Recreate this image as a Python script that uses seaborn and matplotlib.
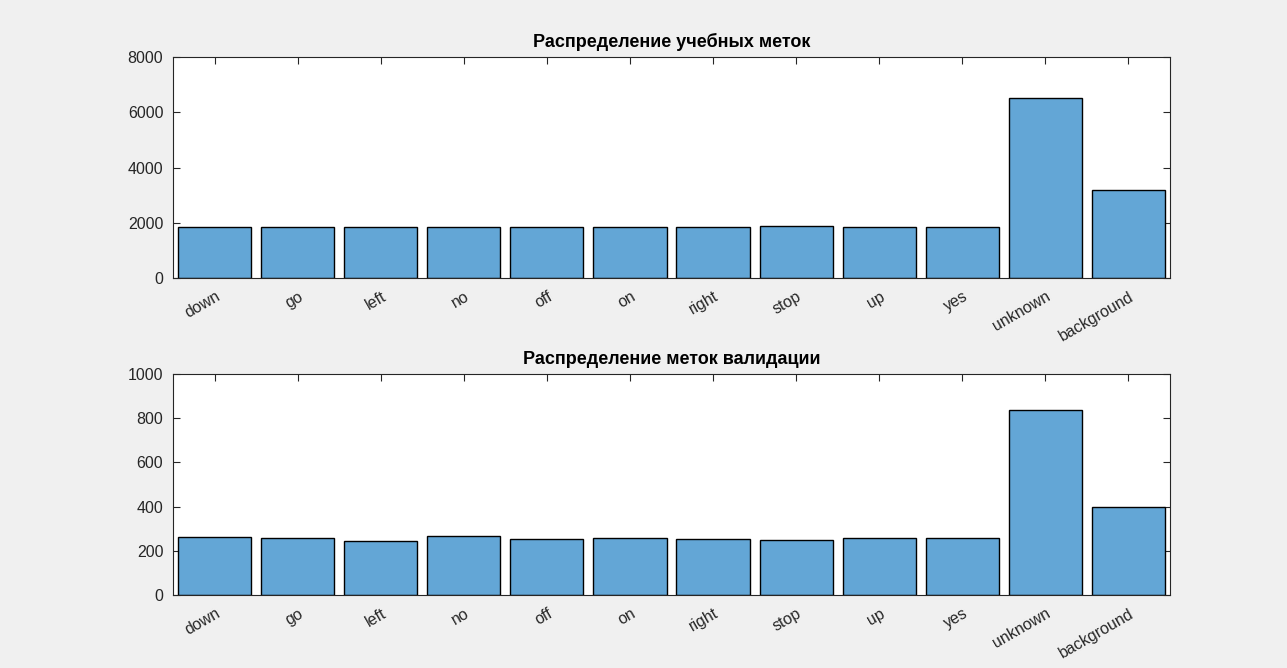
import numpy as np
import pandas as pd
import matplotlib
matplotlib.use('Agg')
import matplotlib.pyplot as plt
import matplotlib.transforms as mtransforms
import seaborn as sns

# Label counts
labels = ['down', 'go', 'left', 'no', 'off', 'on', 'right', 'stop', 'up', 'yes', 'unknown', 'background']
train_counts = [1850, 1850, 1850, 1850, 1850, 1850, 1850, 1890, 1850, 1850, 6500, 3190]
val_counts = [263, 258, 246, 269, 254, 258, 254, 248, 258, 258, 835, 399]

train_title = 'Распределение учебных меток'
val_title = 'Распределение меток валидации'

sns.set_style('white')
plt.rcParams['font.family'] = ['Liberation Sans', 'DejaVu Sans']

bar_color = '#63a6d6'
axis_color = '#262626'

fig = plt.figure(figsize=(12.87, 6.68), dpi=100)
fig.patch.set_facecolor('#f0f0f0')

ax1 = fig.add_axes([173 / 1287, 1 - 278 / 668, 997 / 1287, 221 / 668])
ax2 = fig.add_axes([173 / 1287, 1 - 595 / 668, 997 / 1287, 221 / 668])

# shift rotated tick labels like MATLAB does
label_shift = mtransforms.ScaledTranslation(8 / 100, -6 / 100, fig.dpi_scale_trans)


def draw_panel(ax, counts, title, ymax, step):
    df = pd.DataFrame({'label': labels, 'count': counts})
    sns.barplot(data=df, x='label', y='count', ax=ax, color=bar_color,
                saturation=1, edgecolor='black', linewidth=1, width=0.88)
    ax.set_xlim(-0.5, len(labels) - 0.5)
    ax.set_ylim(0, ymax)
    ax.set_yticks(np.arange(0, ymax + 1, step))
    ax.set_xlabel('')
    ax.set_ylabel('')
    ax.set_title(title, fontsize=13, fontweight='bold', color='black', pad=7)
    ax.set_facecolor('white')
    for s in ax.spines.values():
        s.set_visible(True)
        s.set_color(axis_color)
        s.set_linewidth(0.8)
    ax.tick_params(axis='both', direction='in', length=5, width=0.8, color=axis_color,
                   labelcolor=axis_color, labelsize=11.5, top=True, right=True,
                   bottom=True, left=True)
    ax.tick_params(axis='y', pad=7)
    for lab in ax.get_xticklabels():
        lab.set_rotation(30)
        lab.set_ha('right')
        lab.set_transform(lab.get_transform() + label_shift)


draw_panel(ax1, train_counts, train_title, 8000, 2000)
draw_panel(ax2, val_counts, val_title, 1000, 200)

fig.savefig('out.png', dpi=100, facecolor=fig.get_facecolor())
